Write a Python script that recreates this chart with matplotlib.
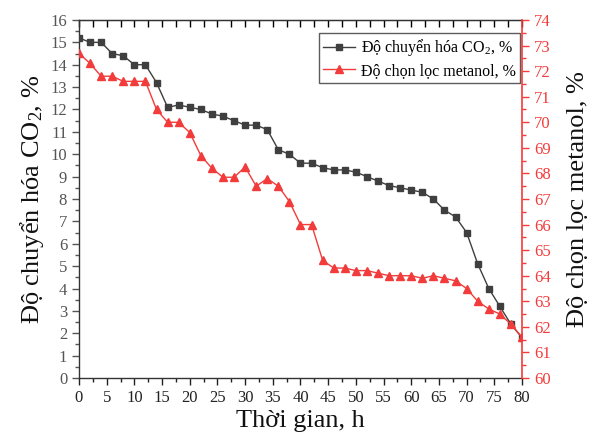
import matplotlib
matplotlib.use("Agg")
import matplotlib.pyplot as plt
from matplotlib.ticker import MultipleLocator

plt.rcParams['font.family'] = ['Liberation Serif', 'DejaVu Serif']
plt.rcParams['mathtext.fontset'] = 'custom'
plt.rcParams['mathtext.rm'] = 'Liberation Serif'
plt.rcParams['mathtext.it'] = 'Liberation Serif:italic'

# Time on stream (h)
time_h = list(range(0, 81, 2))

# CO2 conversion (%)
co2_conversion = [15.2, 15.0, 15.0, 14.5, 14.4, 14.0, 14.0, 13.2, 12.1, 12.2,
                  12.1, 12.0, 11.8, 11.7, 11.5, 11.3, 11.3, 11.1, 10.2, 10.0,
                  9.6, 9.6, 9.4, 9.3, 9.3, 9.2, 9.0, 8.8, 8.6, 8.5,
                  8.4, 8.3, 8.0, 7.5, 7.2, 6.5, 5.1, 4.0, 3.2, 2.4, 1.8]

# Methanol selectivity (%)
meoh_selectivity = [72.7, 72.3, 71.8, 71.8, 71.6, 71.6, 71.6, 70.5, 70.0, 70.0,
                    69.6, 68.7, 68.2, 67.85, 67.85, 68.25, 67.5, 67.8, 67.5, 66.9,
                    66.0, 66.0, 64.6, 64.3, 64.3, 64.2, 64.2, 64.1, 64.0, 64.0,
                    64.0, 63.9, 64.0, 63.9, 63.8, 63.5, 63.0, 62.7, 62.5, 62.1, 61.6]

label_conv = 'Độ chuyển hóa CO$_2$, %'
label_sel = 'Độ chọn lọc metanol, %'

BLACK = '#3f3f3f'
RED = '#f23c3c'

fig = plt.figure(figsize=(5.97, 4.43), dpi=100)
ax = fig.add_axes([0.1323, 0.1467, 0.7421, 0.8082])
ax2 = ax.twinx()

l1, = ax.plot(time_h, co2_conversion, color=BLACK, lw=1.0, marker='s',
              ms=5.0, mfc=BLACK, mec=BLACK, label=label_conv, zorder=3)
l2, = ax2.plot(time_h, meoh_selectivity, color=RED, lw=1.0, marker='^',
               ms=6.0, mfc=RED, mec=RED, label=label_sel, zorder=3)

ax.set_xlim(0, 80)
ax.set_ylim(0, 16)
ax2.set_ylim(60, 74)

ax.xaxis.set_major_locator(MultipleLocator(5))
ax.xaxis.set_minor_locator(MultipleLocator(2.5))
ax.yaxis.set_major_locator(MultipleLocator(1))
ax.yaxis.set_minor_locator(MultipleLocator(0.5))
ax2.yaxis.set_major_locator(MultipleLocator(1))
ax2.yaxis.set_minor_locator(MultipleLocator(0.5))

ax.tick_params(axis='x', which='both', direction='out', top=False,
               labelsize=12, colors='#222222', width=1.0)
ax.tick_params(axis='x', which='major', length=5)
ax.tick_params(axis='x', which='minor', length=3)
ax.tick_params(axis='y', which='both', direction='out', labelsize=12,
               colors='#555555', width=1.0, right=False)
ax.tick_params(axis='y', which='major', length=5)
ax.tick_params(axis='y', which='minor', length=3)
ax2.tick_params(axis='y', which='both', direction='out', labelsize=12,
                colors=RED, width=1.0)
ax2.tick_params(axis='y', which='major', length=5)
ax2.tick_params(axis='y', which='minor', length=3)

# top axis ticks point inward
secx = ax.secondary_xaxis('top')
secx.xaxis.set_major_locator(MultipleLocator(5))
secx.xaxis.set_minor_locator(MultipleLocator(2.5))
secx.tick_params(axis='x', which='both', direction='in', labeltop=False, width=1.0)
secx.tick_params(axis='x', which='major', length=5)
secx.tick_params(axis='x', which='minor', length=5)
secx.spines['top'].set_color('#222222')

for sp in ['left', 'bottom', 'top']:
    ax.spines[sp].set_color('#333333')
    ax.spines[sp].set_linewidth(1.0)
ax2.spines['right'].set_color(RED)
ax2.spines['right'].set_linewidth(1.2)
ax.spines['right'].set_visible(False)
for sp in ['left', 'bottom', 'top']:
    ax2.spines[sp].set_visible(False)

ax.set_xlabel('Thời gian, h', fontsize=19, color='#111111', labelpad=3)
ax.set_ylabel(label_conv, fontsize=19, color='#111111', labelpad=3)
ax2.set_ylabel(label_sel, fontsize=19, color='#111111', labelpad=12)

leg = ax.legend(handles=[l1, l2], loc='upper right', fontsize=11.5,
                frameon=True, fancybox=False, edgecolor='#333333',
                borderpad=0.25, handlelength=2.0, handletextpad=0.4,
                labelspacing=0.3, borderaxespad=0.0,
                bbox_to_anchor=(0.995, 0.963))
leg.get_frame().set_linewidth(1.0)

fig.savefig('out.png', dpi=100)
